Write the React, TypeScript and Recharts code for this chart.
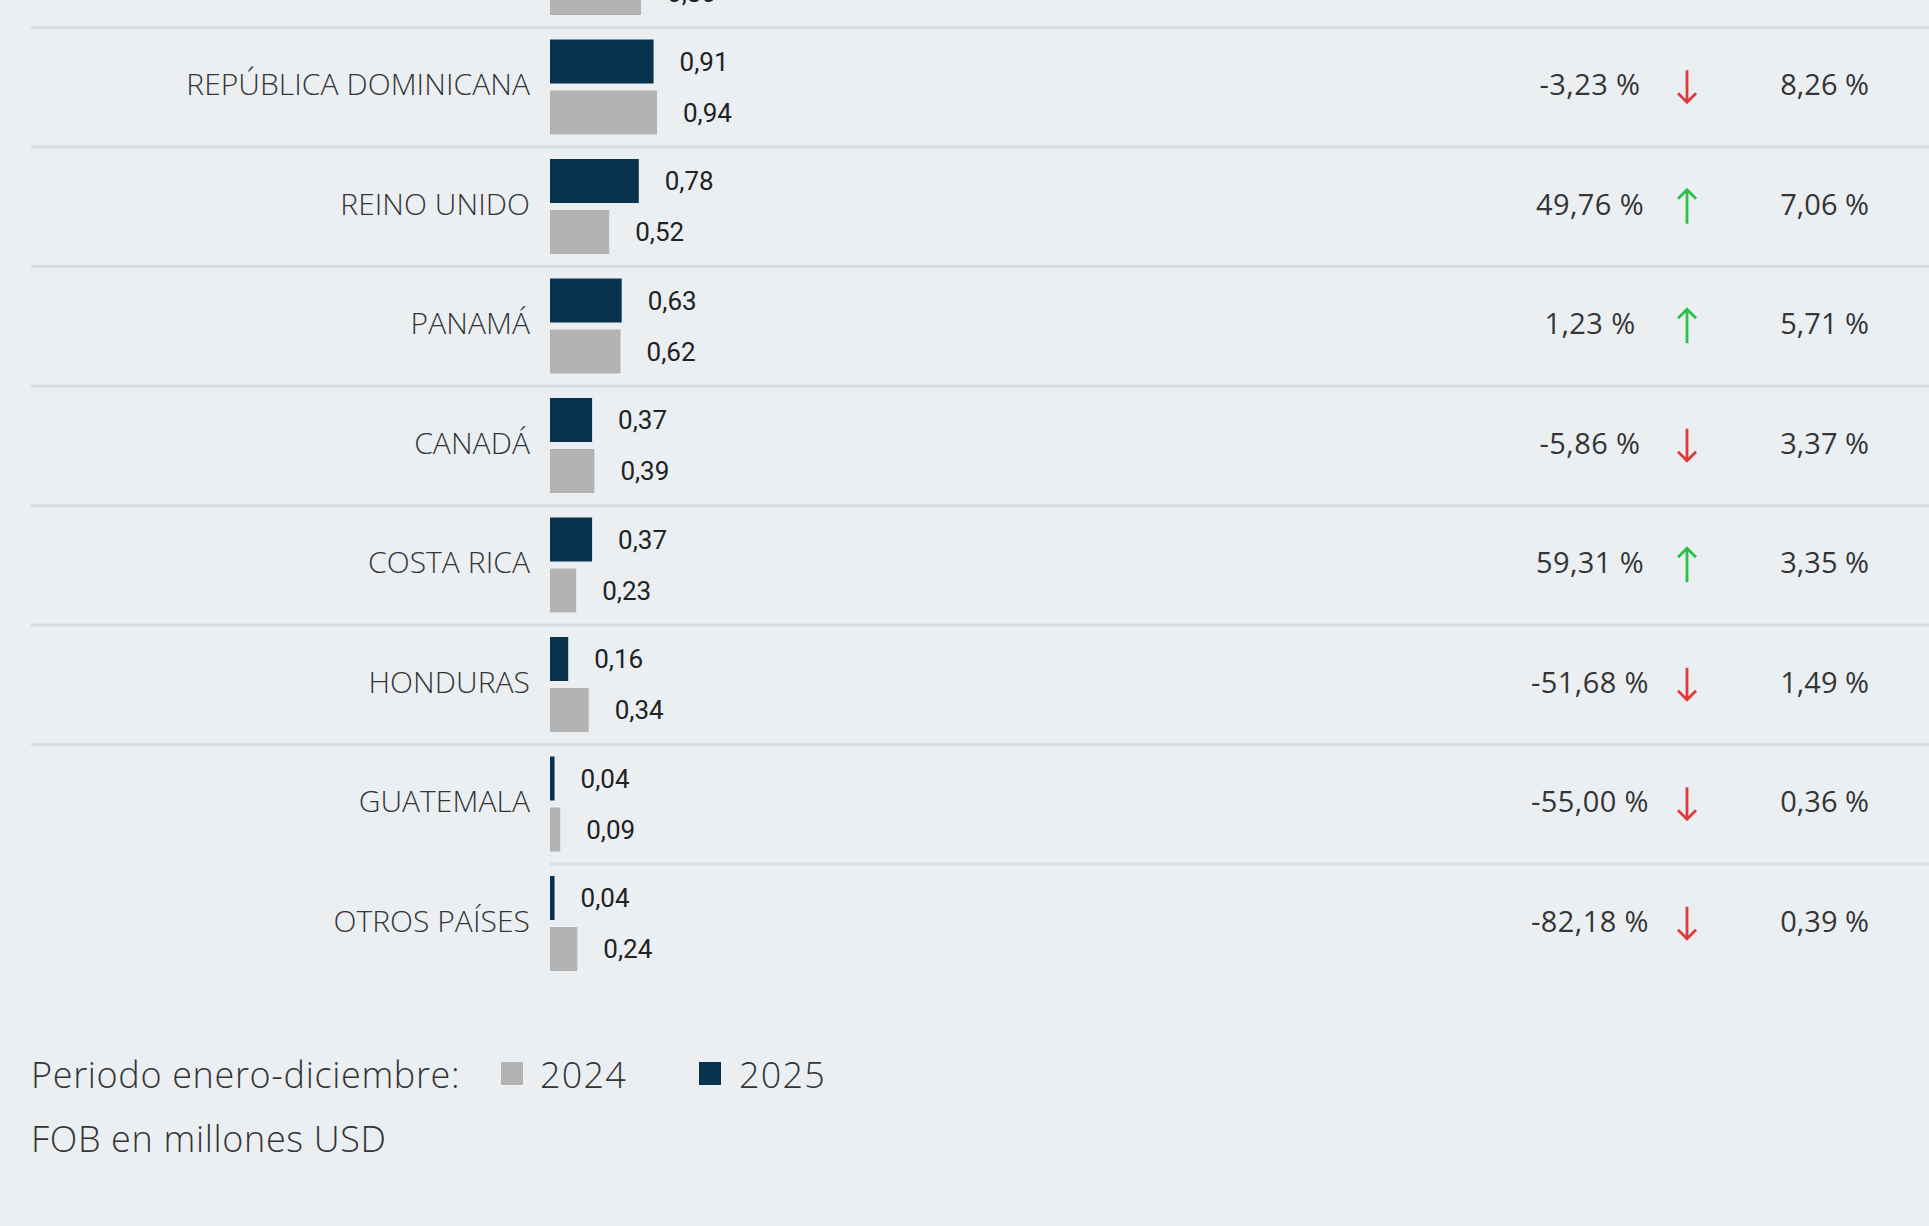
import React from 'react';
import { BarChart, Bar, XAxis, YAxis, LabelList, Legend } from 'recharts';

// ---- data ----
const countries = ['', 'REPÚBLICA DOMINICANA', 'REINO UNIDO', 'PANAMÁ', 'CANADÁ', 'COSTA RICA', 'HONDURAS', 'GUATEMALA', 'OTROS PAÍSES'];
const values2025: (number | null)[] = [null, 0.91, 0.78, 0.63, 0.37, 0.37, 0.16, 0.04, 0.04];
const values2024: (number | null)[] = [0.8, 0.94, 0.52, 0.62, 0.39, 0.23, 0.34, 0.09, 0.24];
const variation: (number | null)[] = [null, -3.23, 49.76, 1.23, -5.86, 59.31, -51.68, -55.0, -82.18];
const share: (number | null)[] = [null, 8.26, 7.06, 5.71, 3.37, 3.35, 1.49, 0.36, 0.39];
const seriesNames = ['2024', '2025'];
const legendTitle = 'Periodo enero-diciembre:';
const unitNote = 'FOB en millones USD';

const data = countries.map((name, i) => ({
  name,
  v2025: values2025[i],
  v2024: values2024[i],
}));

// ---- styles ----
const BG = '#eceff2';
const DARK = '#08334e';
const GRAY = '#b3b3b3';
const SEP = '#dadbdc';
const TEXT = '#353535';
const UP = '#2cbf4c';
const DOWN = '#e0393c';
const ROW_H = 119.5;
const PLOT_LEFT = 550;

const fmt = (v: number) => v.toFixed(2).replace('.', ',');

const CategoryTick = (props: any) => {
  const { y, payload, index } = props;
  const i = typeof index === 'number' ? index : countries.indexOf(payload.value);
  const v = variation[i];
  const s = share[i];
  const top = y - ROW_H / 2;
  const isLast = i === countries.length - 1;
  const ty = y - 3.5;
  return (
    <g>
      {i > 0 && (
        <line x1={isLast ? PLOT_LEFT : 31} x2={1929} y1={top} y2={top} stroke={SEP} strokeWidth={3} />
      )}
      <text
        x={530}
        y={ty}
        textAnchor="end"
        dominantBaseline="central"
        fill={TEXT}
        style={{ fontFamily: 'Open Sans', fontWeight: 300, fontSize: 30, letterSpacing: 0.05 }}
      >
        {payload.value}
      </text>
      {v != null && (
        <text
          x={1590}
          y={ty}
          textAnchor="middle"
          dominantBaseline="central"
          fill={TEXT}
          style={{ fontFamily: 'Open Sans', fontWeight: 400, fontSize: 29, letterSpacing: 0.4 }}
        >
          {fmt(v) + ' %'}
        </text>
      )}
      {v != null && (
        v >= 0 ? (
          <path
            d={`M1687 ${y + 17} L1687 ${y - 17} M1678 ${y - 8} L1687 ${y - 17} L1696 ${y - 8}`}
            fill="none"
            stroke={UP}
            strokeWidth={2.8}
          />
        ) : (
          <path
            d={`M1687 ${y - 17} L1687 ${y + 15} M1678 ${y + 6} L1687 ${y + 15} L1696 ${y + 6}`}
            fill="none"
            stroke={DOWN}
            strokeWidth={2.8}
          />
        )
      )}
      {s != null && (
        <text
          x={1869}
          y={ty}
          textAnchor="end"
          dominantBaseline="central"
          fill={TEXT}
          style={{ fontFamily: 'Open Sans', fontWeight: 400, fontSize: 29 }}
        >
          {fmt(s) + ' %'}
        </text>
      )}
    </g>
  );
};

const ValueLabel = (props: any) => {
  const { x, y, width, height, value } = props;
  if (value == null) return null;
  return (
    <text
      x={x + width + 26}
      y={y + height / 2}
      dominantBaseline="central"
      fill="#222"
      style={{ fontFamily: 'Roboto', fontWeight: 400, fontSize: 26 }}
    >
      {fmt(value)}
    </text>
  );
};

const LegendContent = (props: any) => {
  const payload = props.payload || [];
  const find = (n: string) => payload.find((p: any) => p.value === n);
  const p24 = find(seriesNames[0]);
  const p25 = find(seriesNames[1]);
  const fs = { fontFamily: 'Open Sans', fontWeight: 300, fontSize: 36, letterSpacing: 0.65 };
  return (
    <svg width={900} height={130}>
      <text x={31} y={48} fill={TEXT} style={fs}>{legendTitle}</text>
      <rect x={501} y={22} width={22} height={23} fill={p24 ? p24.color : GRAY} />
      <text x={540} y={48} fill={TEXT} style={{ ...fs, letterSpacing: 1.2 }}>{p24 ? p24.value : seriesNames[0]}</text>
      <rect x={699} y={22} width={22} height={23} fill={p25 ? p25.color : DARK} />
      <text x={739} y={48} fill={TEXT} style={{ ...fs, letterSpacing: 1.2 }}>{p25 ? p25.value : seriesNames[1]}</text>
      <text x={31} y={112} fill={TEXT} style={fs}>{unitNote}</text>
    </svg>
  );
};

const TOP_SHIFT = 92.5;
const CHART_H = 1300;
const PLOT_H = ROW_H * countries.length;

export default function App() {
  return (
    <div style={{ position: 'absolute', left: 0, top: 0, width: 1929, height: 1226, background: BG, overflow: 'hidden' }}>
      <div style={{ position: 'absolute', left: 0, top: -TOP_SHIFT }}>
        <BarChart
          width={1929}
          height={CHART_H}
          data={data}
          layout="vertical"
          margin={{ top: 0, right: 241, bottom: CHART_H - PLOT_H, left: 0 }}
          barSize={44}
          barGap={7}
        >
          <XAxis type="number" domain={[0, 10]} hide />
          <YAxis
            type="category"
            dataKey="name"
            width={PLOT_LEFT}
            axisLine={false}
            tickLine={false}
            interval={0}
            tick={CategoryTick}
          />
          <Bar dataKey="v2025" name={seriesNames[1]} fill={DARK} isAnimationActive={false}>
            <LabelList dataKey="v2025" content={ValueLabel} />
          </Bar>
          <Bar dataKey="v2024" name={seriesNames[0]} fill={GRAY} isAnimationActive={false}>
            <LabelList dataKey="v2024" content={ValueLabel} />
          </Bar>
          <Legend
            layout="horizontal"
            verticalAlign="middle"
            align="center"
            content={LegendContent}
            wrapperStyle={{ position: 'absolute', left: 0, top: 1040 + TOP_SHIFT, width: 900, height: 130 }}
          />
        </BarChart>
      </div>
    </div>
  );
}
